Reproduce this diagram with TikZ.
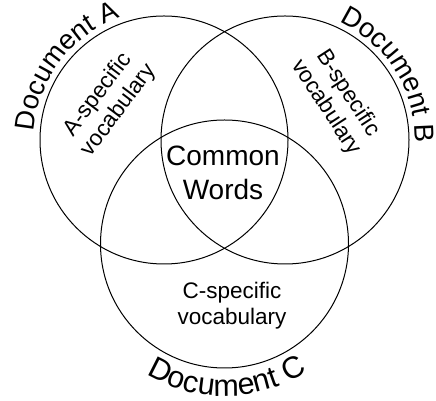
\documentclass[tikz,border=0pt]{standalone}
\usepackage{fontspec}
\setmainfont{Liberation Sans}
\usetikzlibrary{decorations.text}
\newcommand\dcfont{\fontsize{27.5}{27.5}\selectfont}
\newcommand\dcbigfont{\fontsize{30.5}{30.5}\selectfont}
\begin{document}
\begin{tikzpicture}[x=1pt,y=1pt,
  circ/.style={draw=black, line width=1pt},
  spec/.style={align=center, inner sep=0pt, font=\fontsize{22.5}{26}\selectfont},
  doclabel/.style={decorate, decoration={text along path, text align=center, text={#1}}}]
\useasboundingbox (0,0) rectangle (436,401);
\coordinate (A) at (164,261);
\coordinate (B) at (285,261);
\coordinate (C) at (224.5,157);
\draw[circ] (A) circle[radius=124];
\draw[circ] (B) circle[radius=124];
\draw[circ] (C) circle[radius=124];
\path[doclabel={|\dcfont|Document A}] (A) ++(183:130) arc[start angle=183, end angle=103, radius=130];
\path[doclabel={|\dcfont|Document B}] (B) ++(72:130) arc[start angle=72, end angle=-8, radius=130];
\path[doclabel={|\dcbigfont|Document C}] (C) ++(226:152) arc[start angle=226, end angle=316, radius=152];
\node[spec, rotate=53] (sa) at (108.5,298.5) {A-specific\\vocabulary};
\node[spec, rotate=-57] (sb) at (337,300.5) {B-specific\\vocabulary};
\node[spec] (sc) at (232,95.5) {C-specific\\vocabulary};
\node[align=center, inner sep=0pt, font=\fontsize{28}{34}\selectfont] (cw) at (223,228) {Common\\Words};
\end{tikzpicture}
\end{document}
